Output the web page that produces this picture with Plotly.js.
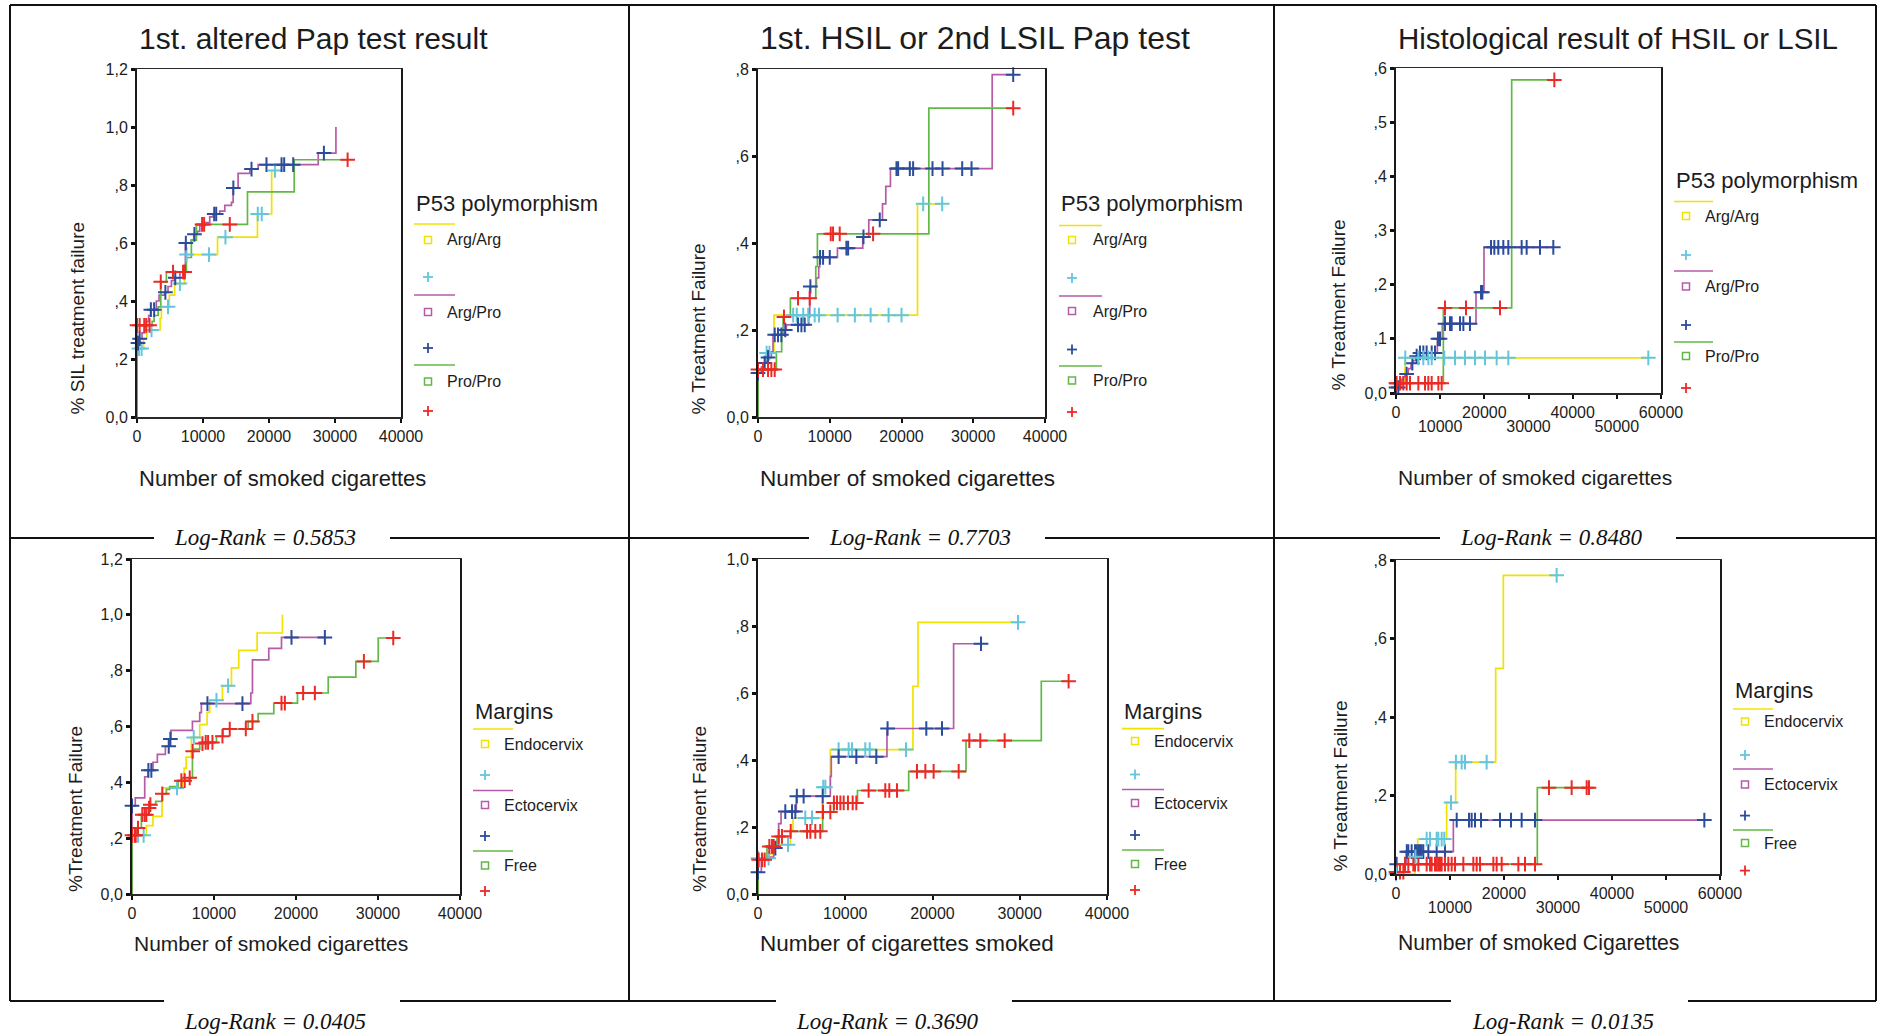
<!DOCTYPE html>
<html>
<head>
<meta charset="utf-8">
<script src="https://cdn.plot.ly/plotly-3.0.1.min.js"></script>
<style>
html,body{margin:0;padding:0;background:#fff;overflow:hidden}
#chart{width:1879px;height:1034px}
</style>
</head>
<body>
<div id="chart"></div>
<script>
// ---------------- DATA ----------------
// Panel 1: 1st. altered Pap test result (P53 polymorphism)
const p1ArgArgX = [0, 0, 1000, 1500, 3500, 3700, 4900, 5700, 7200, 7400, 12200, 18250, 20400, 20900];
const p1ArgArgY = [0, 0.236, 0.27, 0.30, 0.34, 0.38, 0.42, 0.46, 0.50, 0.56, 0.62, 0.70, 0.85, 0.85];
const p1ArgArgCens = [300, 700, 2200, 4700, 6500, 7500, 10900, 13400, 18300, 18900, 20900];
const p1ArgProX = [0, 0, 400, 760, 1160, 1420, 1770, 2070, 2930, 3340, 4200, 4700, 5210, 5710, 6500, 7330, 8240, 8600, 9150, 9510, 10270, 11020, 11530, 12540, 13300, 14310, 14560, 15320, 17100, 18360, 27460, 30140];
const p1ArgProY = [0, 0.255, 0.27, 0.29, 0.31, 0.33, 0.35, 0.37, 0.40, 0.42, 0.43, 0.45, 0.47, 0.48, 0.50, 0.60, 0.61, 0.63, 0.64, 0.66, 0.67, 0.69, 0.70, 0.71, 0.73, 0.74, 0.79, 0.84, 0.855, 0.87, 0.91, 1.0];
const p1ArgProCens = [150, 400, 2100, 2600, 4300, 5800, 7200, 7400, 8700, 11700, 12000, 14600, 17350, 19620, 21900, 22300, 23670, 28320];
const p1ProProX = [0, 0, 2300, 2600, 3200, 3600, 4450, 7480, 8240, 9000, 16740, 23820, 31910];
const p1ProProY = [0, 0.316, 0.33, 0.35, 0.38, 0.466, 0.50, 0.55, 0.61, 0.664, 0.776, 0.887, 0.887];
const p1ProProCens = [0, 400, 1100, 1400, 1900, 3600, 5460, 6980, 7230, 9860, 10170, 14060, 31910];

// Panel 2: 1st. HSIL or 2nd LSIL Pap test
const p2ArgArgX = [0, 0, 700, 1100, 2230, 22230, 25670];
const p2ArgArgY = [0, 0.105, 0.125, 0.147, 0.234, 0.49, 0.49];
const p2ArgArgCens = [1200, 1600, 4900, 5400, 6300, 7000, 7900, 8500, 11100, 13500, 15700, 18200, 20000, 23020, 25670];
const p2ArgProX = [0, 0, 465, 700, 1160, 1860, 2090, 3720, 3950, 7070, 7210, 8140, 8460, 8600, 11070, 14600, 15440, 17350, 17810, 18460, 32640, 35570];
const p2ArgProY = [0, 0.101, 0.115, 0.124, 0.137, 0.15, 0.189, 0.20, 0.212, 0.23, 0.30, 0.32, 0.345, 0.367, 0.388, 0.414, 0.453, 0.49, 0.53, 0.571, 0.787, 0.787];
const p2ArgProCens = [0, 930, 1400, 2330, 2790, 3260, 3800, 5580, 6050, 6510, 7300, 8650, 9070, 10000, 12320, 12560, 14700, 16970, 19300, 19530, 21160, 21620, 24320, 25720, 28460, 29760, 35570];
const p2ProProX = [0, 0, 2560, 3300, 3500, 4510, 8050, 8280, 23810, 35570];
const p2ProProY = [0, 0.109, 0.150, 0.19, 0.23, 0.273, 0.346, 0.421, 0.710, 0.710];
const p2ProProCens = [0, 700, 1400, 1860, 2330, 3620, 5580, 7210, 10140, 10460, 11390, 16040, 35570];

// Panel 3: Histological result of HSIL or LSIL
const p3ArgArgX = [0, 0, 2040, 57130];
const p3ArgArgY = [0, 0.02, 0.065, 0.065];
const p3ArgArgCens = [2100, 5060, 6190, 7320, 8080, 10940, 13360, 15620, 17890, 20150, 22790, 25430, 57130];
const p3ArgProX = [0, 0, 900, 1280, 1660, 2040, 2790, 3400, 3920, 4450, 5060, 9360, 10490, 18110, 19920, 35620];
const p3ArgProY = [0, 0.01, 0.015, 0.025, 0.03, 0.035, 0.045, 0.055, 0.060, 0.068, 0.074, 0.10, 0.128, 0.186, 0.269, 0.269];
const p3ArgProCens = [0, 530, 2400, 3700, 4680, 5430, 6190, 6940, 8080, 8830, 9500, 9960, 11090, 12230, 12600, 14490, 15250, 16750, 19250, 19550, 21510, 22260, 23170, 24300, 25430, 28450, 29580, 32600, 35620];
const p3ProProX = [0, 0, 10720, 26190, 35850];
const p3ProProY = [0, 0.018, 0.157, 0.578, 0.578];
const p3ProProCens = [0, 150, 910, 1660, 2420, 3170, 5060, 6570, 7320, 8080, 9590, 10340, 11090, 15850, 23550, 35850];

// Panel 4: Margins, 1st. altered Pap test
const p4EndoX = [0, 0, 1750, 2560, 3660, 6140, 6350, 6600, 7240, 8260, 9160, 9480, 11030, 12130, 13020, 15260, 18350];
const p4EndoY = [0, 0.21, 0.245, 0.278, 0.38, 0.415, 0.451, 0.49, 0.561, 0.607, 0.651, 0.694, 0.746, 0.81, 0.873, 0.935, 1.0];
const p4EndoCens = [730, 1420, 5490, 7530, 10300, 11720];
const p4EctoX = [0, 0, 400, 1550, 1950, 2560, 3090, 4070, 4520, 4750, 7370, 8260, 8460, 14490, 14690, 16680, 18230, 23520];
const p4EctoY = [0, 0.316, 0.344, 0.42, 0.443, 0.472, 0.50, 0.529, 0.555, 0.586, 0.618, 0.65, 0.682, 0.72, 0.839, 0.88, 0.919, 0.919];
const p4EctoCens = [0, 2000, 2360, 4480, 4680, 9200, 13470, 19450, 23520];
const p4FreeX = [0, 0, 530, 1140, 2000, 2200, 2890, 3660, 4190, 4600, 5620, 7000, 7370, 7600, 8260, 8800, 10300, 11110, 14160, 15380, 17290, 20180, 23930, 27300, 30030, 31860];
const p4FreeY = [0, 0.21, 0.236, 0.284, 0.308, 0.32, 0.332, 0.359, 0.375, 0.385, 0.406, 0.416, 0.511, 0.519, 0.539, 0.543, 0.565, 0.591, 0.618, 0.646, 0.684, 0.72, 0.777, 0.833, 0.917, 0.917];
const p4FreeCens = [0, 330, 450, 730, 1260, 1550, 1750, 2080, 2240, 3700, 6020, 6430, 7040, 7400, 8590, 8990, 9280, 9810, 11030, 11920, 13880, 14690, 18230, 18640, 20870, 22300, 28280, 31860];

// Panel 5: Margins, HSIL / 2nd LSIL
const p5EndoX = [0, 0, 1300, 1800, 3700, 4010, 7350, 7440, 8290, 17760, 18340, 29800];
const p5EndoY = [0, 0.107, 0.12, 0.147, 0.19, 0.227, 0.27, 0.319, 0.431, 0.62, 0.811, 0.811];
const p5EndoCens = [0, 1220, 3440, 5420, 6190, 7480, 7720, 9240, 10390, 10770, 12300, 12800, 16960, 29800];
const p5EctoX = [0, 0, 380, 1030, 1800, 2370, 2640, 4390, 8290, 8400, 14780, 22420, 25560];
const p5EctoY = [0, 0.065, 0.102, 0.11, 0.137, 0.21, 0.246, 0.292, 0.351, 0.41, 0.494, 0.747, 0.747];
const p5EctoCens = [0, 1990, 3130, 3900, 4280, 4450, 5230, 7410, 9240, 11270, 13560, 14850, 19290, 21090, 25560];
const p5FreeX = [0, 0, 1030, 2180, 3700, 7410, 8670, 11400, 17270, 23840, 32470, 35600];
const p5FreeY = [0, 0.102, 0.142, 0.172, 0.187, 0.245, 0.272, 0.309, 0.366, 0.458, 0.635, 0.635];
const p5FreeCens = [80, 460, 760, 1300, 1600, 1800, 2370, 2750, 3750, 5620, 6000, 6570, 7140, 7450, 8290, 8700, 9050, 9440, 9820, 10310, 10850, 11270, 12680, 14590, 15050, 15930, 18220, 19180, 20130, 23000, 24220, 25480, 28270, 35600];

// Panel 6: Margins, histological result
const p6EndoX = [0, 0, 3520, 4010, 9380, 11050, 18460, 19880, 29750];
const p6EndoY = [0, 0, 0.044, 0.089, 0.182, 0.285, 0.524, 0.761, 0.761];
const p6EndoCens = [0, 3600, 5680, 6300, 7530, 7840, 8460, 8950, 10190, 11100, 12160, 12780, 16790, 29750];
const p6EctoX = [0, 0, 1900, 10620, 57100];
const p6EctoY = [0, 0.025, 0.057, 0.1375, 0.1375];
const p6EctoCens = [120, 2000, 2280, 2900, 3520, 3830, 4140, 4450, 4750, 5060, 5990, 7530, 9070, 11240, 13520, 14010, 14630, 15740, 19260, 21300, 23270, 25740, 57100];
const p6FreeX = [0, 0, 1500, 26170, 35740];
const p6FreeY = [0, 0.005, 0.025, 0.22, 0.22];
const p6FreeCens = [0, 740, 1360, 1670, 2280, 3210, 3520, 4140, 5680, 6300, 6600, 7220, 7530, 7840, 8150, 8460, 9070, 9690, 10310, 10930, 12470, 14320, 14940, 15560, 18030, 18640, 19570, 22660, 23890, 25740, 28330, 32530, 35310, 35740];

// Texts and ticks
const panelTitles = ['1st. altered Pap test result', '1st. HSIL or 2nd LSIL Pap test', 'Histological result of HSIL or LSIL'];
const xTitles = ['Number of smoked cigarettes', 'Number of smoked cigarettes', 'Number of smoked cigarettes', 'Number of smoked cigarettes', 'Number of cigarettes smoked', 'Number of smoked Cigarettes'];
const yTitles = ['% SIL treatment failure', '% Treatment Failure', '% Treatment Failure', '%Treatment Failure', '%Treatment Failure', '% Treatment Failure'];
const logRanks = ['Log-Rank = 0.5853', 'Log-Rank = 0.7703', 'Log-Rank = 0.8480', 'Log-Rank = 0.0405', 'Log-Rank = 0.3690', 'Log-Rank = 0.0135'];
const p53Title = 'P53 polymorphism';
const p53Labels = ['Arg/Arg', 'Arg/Pro', 'Pro/Pro'];
const marginTitle = 'Margins';
const marginLabels = ['Endocervix', 'Ectocervix', 'Free'];

const yTicks12 = [0, 0.2, 0.4, 0.6, 0.8, 1.0, 1.2];
const yText12 = ['0,0', ',2', ',4', ',6', ',8', '1,0', '1,2'];
const yTicks10 = [0, 0.2, 0.4, 0.6, 0.8, 1.0];
const yText10 = ['0,0', ',2', ',4', ',6', ',8', '1,0'];
const yTicks08 = [0, 0.2, 0.4, 0.6, 0.8];
const yText08 = ['0,0', ',2', ',4', ',6', ',8'];
const yTicks06 = [0, 0.1, 0.2, 0.3, 0.4, 0.5, 0.6];
const yText06 = ['0,0', ',1', ',2', ',3', ',4', ',5', ',6'];
const xTicks40 = [0, 10000, 20000, 30000, 40000];
const xText40 = ['0', '10000', '20000', '30000', '40000'];
const xTicks60 = [0, 10000, 20000, 30000, 40000, 50000, 60000];
const xText60 = ['0', '', '20000', '', '40000', '', '60000'];
const xTicks60Odd = [10000, 30000, 50000];
const xText60Odd = ['10000', '30000', '50000'];

// ---------------- LAYOUT GEOMETRY (pixels) ----------------
const W = 1879, H = 1034;
const fx = p => p / W;
const fy = p => 1 - p / H;
const SANS = 'Liberation Sans, Arial, Helvetica, sans-serif';
const SERIF = 'Liberation Serif, Times New Roman, serif';
const TXT = '#1c1c1c';

const lineColors = ['#f0e300', '#b65ca7', '#62b845'];
const censColors = ['#64c6dc', '#2b4b9b', '#ec2a25'];

const panels = [
  {frame:[137, 401, 69, 417], xr:[0, 40000], xt:[xTicks40, xText40], yr:[0, 1.2], yt:[yTicks12, yText12],
   curves:[[p1ArgArgX, p1ArgArgY, p1ArgArgCens], [p1ArgProX, p1ArgProY, p1ArgProCens], [p1ProProX, p1ProProY, p1ProProCens]]},
  {frame:[758, 1045, 69, 417], xr:[0, 40000], xt:[xTicks40, xText40], yr:[0, 0.8], yt:[yTicks08, yText08],
   curves:[[p2ArgArgX, p2ArgArgY, p2ArgArgCens], [p2ArgProX, p2ArgProY, p2ArgProCens], [p2ProProX, p2ProProY, p2ProProCens]]},
  {frame:[1396, 1661, 68, 393], xr:[0, 60000], xt:[xTicks60, xText60], yr:[0, 0.6], yt:[yTicks06, yText06], overlay:'x7',
   curves:[[p3ArgArgX, p3ArgArgY, p3ArgArgCens], [p3ArgProX, p3ArgProY, p3ArgProCens], [p3ProProX, p3ProProY, p3ProProCens]]},
  {frame:[132, 460, 559, 894], xr:[0, 40000], xt:[xTicks40, xText40], yr:[0, 1.2], yt:[yTicks12, yText12],
   curves:[[p4EndoX, p4EndoY, p4EndoCens], [p4EctoX, p4EctoY, p4EctoCens], [p4FreeX, p4FreeY, p4FreeCens]]},
  {frame:[758, 1107, 559, 894], xr:[0, 40000], xt:[xTicks40, xText40], yr:[0, 1.0], yt:[yTicks10, yText10],
   curves:[[p5EndoX, p5EndoY, p5EndoCens], [p5EctoX, p5EctoY, p5EctoCens], [p5FreeX, p5FreeY, p5FreeCens]]},
  {frame:[1396, 1720, 560, 874], xr:[0, 60000], xt:[xTicks60, xText60], yr:[0, 0.8], yt:[yTicks08, yText08], overlay:'x8',
   curves:[[p6EndoX, p6EndoY, p6EndoCens], [p6EctoX, p6EctoY, p6EctoCens], [p6FreeX, p6FreeY, p6FreeCens]]}
];

function stepAt(xs, ys, c) {
  let v = ys[0];
  for (let i = 0; i < xs.length; i++) { if (xs[i] <= c) v = ys[i]; }
  return v;
}

const traces = [];
const layout = {
  width: W, height: H,
  margin: {l: 0, r: 0, t: 0, b: 0},
  paper_bgcolor: '#ffffff', plot_bgcolor: '#ffffff',
  showlegend: false,
  font: {family: SANS, color: TXT},
  shapes: [], annotations: []
};

panels.forEach((p, i) => {
  const n = i === 0 ? '' : String(i + 1);
  const [x0, x1, y0, y1] = p.frame;
  layout['xaxis' + n] = {
    domain: [fx(x0), fx(x1)], range: p.xr, anchor: 'y' + n,
    tickmode: 'array', tickvals: p.xt[0], ticktext: p.xt[1],
    ticks: 'outside', ticklen: 4, tickwidth: 2, tickcolor: '#111',
    showline: true, mirror: true, linecolor: '#2a2a2a', linewidth: 1.5,
    showgrid: false, zeroline: false, fixedrange: true,
    tickfont: {size: 16, color: TXT, family: SANS}
  };
  layout['yaxis' + n] = {
    domain: [fy(y1), fy(y0)], range: p.yr, anchor: 'x' + n,
    tickmode: 'array', tickvals: p.yt[0], ticktext: p.yt[1],
    ticks: 'outside', ticklen: 4, tickwidth: 3, tickcolor: '#111',
    showline: true, mirror: true, linecolor: '#1a1a1a', linewidth: 2,
    showgrid: false, zeroline: false, fixedrange: true,
    tickfont: {size: 16, color: TXT, family: SANS}
  };
  if (p.overlay) {
    layout['xaxis' + p.overlay.slice(1)] = {
      overlaying: 'x' + n, anchor: 'y' + n, range: p.xr,
      tickmode: 'array', tickvals: xTicks60Odd, ticktext: xText60Odd,
      ticks: '', showline: false, showgrid: false, zeroline: false,
      ticklabelstandoff: 22, fixedrange: true,
      tickfont: {size: 16, color: TXT, family: SANS}
    };
  }
  p.curves.forEach((c, k) => {
    traces.push({type: 'scatter', mode: 'lines', x: c[0], y: c[1], xaxis: 'x' + n, yaxis: 'y' + n,
      line: {shape: 'hv', color: lineColors[k], width: 1.7}, hoverinfo: 'skip', showlegend: false});
  });
  p.curves.forEach((c, k) => {
    const xa = (k === 0 && p.overlay) ? p.overlay : 'x' + n;
    traces.push({type: 'scatter', mode: 'markers', x: c[2], y: c[2].map(v => stepAt(c[0], c[1], v)),
      xaxis: xa, yaxis: 'y' + n, cliponaxis: false,
      marker: {symbol: 'cross-thin', size: 10.5, color: censColors[k], line: {width: 2, color: censColors[k]}},
      hoverinfo: 'skip', showlegend: false});
  });
});

// ---------------- Outer frame (table lines) ----------------
function hline(y, a, b, w) {
  layout.shapes.push({type: 'line', xref: 'paper', yref: 'paper', x0: fx(a), x1: fx(b), y0: fy(y), y1: fy(y), line: {color: '#111', width: w || 2}});
}
function vline(x, a, b, w) {
  layout.shapes.push({type: 'line', xref: 'paper', yref: 'paper', x0: fx(x), x1: fx(x), y0: fy(a), y1: fy(b), line: {color: '#111', width: w || 2}});
}
hline(5, 10, 1876);
[10, 629, 1274, 1876].forEach(x => vline(x, 5, 1001));
[[10, 154], [390, 809], [1045, 1440], [1676, 1876]].forEach(s => hline(538, s[0], s[1]));
[[10, 164], [400, 776], [1012, 1451], [1688, 1876]].forEach(s => hline(1001, s[0], s[1]));

// ---------------- Texts ----------------
function ann(text, x, y, size, opts) {
  layout.annotations.push(Object.assign({text: text, xref: 'paper', yref: 'paper', x: fx(x), y: fy(y),
    showarrow: false, xanchor: 'left', yanchor: 'middle', font: {size: size, color: TXT, family: SANS}}, opts || {}));
}
const titlePos = [[137, 38, 30], [758, 38, 32], [1396, 38, 29.5]];
panelTitles.forEach((t, i) => ann(t, titlePos[i][0], titlePos[i][1], titlePos[i][2]));

const xTitlePos = [[137, 478, 22], [758, 478, 22.6], [1396, 477, 21], [132, 943, 21], [758, 943, 22.5], [1396, 943, 21.2]];
xTitles.forEach((t, i) => ann(t, xTitlePos[i][0], xTitlePos[i][1], xTitlePos[i][2]));

const yTitlePos = [[77, 417], [698, 417], [1338, 393], [75, 894], [699, 894], [1340, 874]];
yTitles.forEach((t, i) => ann(t, yTitlePos[i][0], yTitlePos[i][1], 19, {textangle: -90, xanchor: 'center', yanchor: 'bottom'}));

const logPos = [[265, 537], [920, 537], [1551, 537], [275, 1021], [887, 1021], [1563, 1021]];
logRanks.forEach((t, i) => ann(t, logPos[i][0], logPos[i][1], 23,
  {xanchor: 'center', font: {size: 23, color: '#111', family: SERIF, style: 'italic'}}));

// ---------------- Legends (SPSS style, drawn as decoration) ----------------
const legends = [
  {title: p53Title, labels: p53Labels, lx0: 414, lx1: 455, sx: 428, tx: 445, ty: 203, lines: [224, 295, 365], boxes: [240, 312, 381.5], plus: [277, 348, 411]},
  {title: p53Title, labels: p53Labels, lx0: 1059, lx1: 1102, sx: 1072, tx: 1091, ty: 204, lines: [225.5, 296, 366], boxes: [240, 311, 380.5], plus: [278, 349.5, 412]},
  {title: p53Title, labels: p53Labels, lx0: 1674, lx1: 1713, sx: 1686, tx: 1703, ty: 181, lines: [201.5, 271, 342], boxes: [216, 286.5, 356], plus: [255, 325, 388]},
  {title: marginTitle, labels: marginLabels, lx0: 473, lx1: 513, sx: 485, tx: 502, ty: 711, lines: [729, 790.5, 851], boxes: [744, 805, 865.5], plus: [775, 836, 891]},
  {title: marginTitle, labels: marginLabels, lx0: 1122, lx1: 1164, sx: 1135, tx: 1152, ty: 711, lines: [728.6, 789.5, 850], boxes: [741, 803, 864], plus: [774.5, 835, 890]},
  {title: marginTitle, labels: marginLabels, lx0: 1733, lx1: 1773, sx: 1745, tx: 1762, ty: 690.7, lines: [709, 769, 830], boxes: [721.5, 784.5, 843], plus: [755, 815.6, 870.6]}
];
legends.forEach(L => {
  ann(L.title, L.lx0, L.ty, 22);
  for (let k = 0; k < 3; k++) {
    layout.shapes.push({type: 'line', xref: 'paper', yref: 'paper', x0: fx(L.lx0), x1: fx(L.lx1), y0: fy(L.lines[k]), y1: fy(L.lines[k]),
      line: {color: lineColors[k], width: 1.7}});
    const by = L.boxes[k];
    layout.shapes.push({type: 'rect', xref: 'paper', yref: 'paper', x0: fx(L.sx - 3.5), x1: fx(L.sx + 3.5), y0: fy(by + 3.5), y1: fy(by - 3.5),
      line: {color: lineColors[k], width: 1.5}, fillcolor: 'rgba(0,0,0,0)'});
    ann(L.labels[k], L.tx, by, 16);
    const py = L.plus[k];
    layout.shapes.push({type: 'line', xref: 'paper', yref: 'paper', x0: fx(L.sx - 5), x1: fx(L.sx + 5), y0: fy(py), y1: fy(py), line: {color: censColors[k], width: 1.8}});
    layout.shapes.push({type: 'line', xref: 'paper', yref: 'paper', x0: fx(L.sx), x1: fx(L.sx), y0: fy(py - 5), y1: fy(py + 5), line: {color: censColors[k], width: 1.8}});
  }
});

Plotly.newPlot('chart', traces, layout, {staticPlot: true, displayModeBar: false});
</script>
</body>
</html>
